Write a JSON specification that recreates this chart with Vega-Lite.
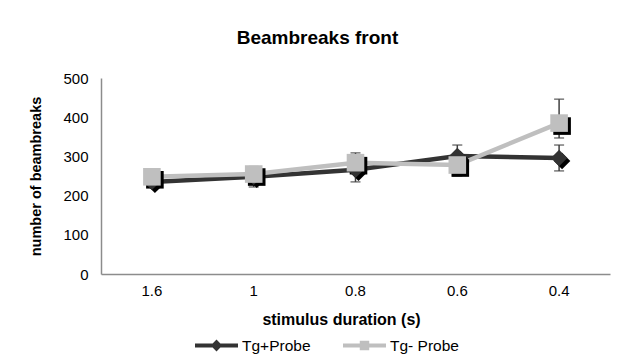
{
  "$schema": "https://vega.github.io/schema/vega-lite/v6.json",
  "width": 509,
  "height": 196,
  "autosize": "none",
  "padding": {"left": 101, "top": 78, "right": 16, "bottom": 86},
  "background": "white",
  "title": {"text": "Beambreaks front", "font": "Liberation Sans", "fontSize": 19, "fontWeight": "bold", "color": "black", "offset": 23, "anchor": "middle", "dx": -38},
  "config": {
    "view": {"stroke": null},
    "font": "Liberation Sans",
    "axis": {"domainColor": "#8c8c8c", "domainWidth": 1.5, "labelColor": "black", "titleColor": "black", "labelFont": "Liberation Sans", "titleFont": "Liberation Sans", "grid": false}
  },
  "data": {"values": [
    {"cat": "1.6", "series": "Tg+Probe", "mean": 235, "lo": 222, "hi": 248},
    {"cat": "1.6", "series": "Tg- Probe", "mean": 248, "lo": 236, "hi": 260},
    {"cat": "1", "series": "Tg+Probe", "mean": 248, "lo": 222, "hi": 274},
    {"cat": "1", "series": "Tg- Probe", "mean": 255, "lo": 241, "hi": 269},
    {"cat": "0.8", "series": "Tg+Probe", "mean": 266, "lo": 235, "hi": 297},
    {"cat": "0.8", "series": "Tg- Probe", "mean": 284, "lo": 259, "hi": 309},
    {"cat": "0.6", "series": "Tg+Probe", "mean": 301, "lo": 273, "hi": 329},
    {"cat": "0.6", "series": "Tg- Probe", "mean": 278, "lo": 250, "hi": 306},
    {"cat": "0.4", "series": "Tg+Probe", "mean": 296, "lo": 263, "hi": 329},
    {"cat": "0.4", "series": "Tg- Probe", "mean": 385, "lo": 347, "hi": 446}
  ]},
  "encoding": {
    "x": {"field": "cat", "type": "nominal", "sort": ["1.6", "1", "0.8", "0.6", "0.4"], "scale": {"paddingInner": 0, "paddingOuter": 0},
      "axis": {"title": "stimulus duration (s)", "labelAngle": 0, "labelFontSize": 15, "labelPadding": 9, "ticks": false, "titleFontSize": 16, "titleFontWeight": "bold", "titlePadding": 13, "titleX": 240}},
    "y": {"field": "mean", "type": "quantitative", "scale": {"domain": [0, 500], "nice": false},
      "axis": {"title": "number of beambreaks", "values": [0, 100, 200, 300, 400, 500], "ticks": false, "labelFontSize": 15, "labelPadding": 13, "titleFontSize": 14.5, "titleFontWeight": "bold", "titlePadding": 19}}
  },
  "layer": [
    {
      "mark": {"type": "line", "strokeWidth": 4.5},
      "encoding": {
        "color": {"field": "series", "type": "nominal", "scale": {"domain": ["Tg+Probe", "Tg- Probe"], "range": ["#333333", "#bfbfbf"]},
          "legend": {"title": null, "orient": "none", "legendX": 94, "legendY": 246, "direction": "horizontal", "padding": 0, "labelFontSize": 15.5, "labelFont": "Liberation Sans", "labelColor": "black", "symbolSize": 1849, "labelOffset": 4, "columnPadding": 32,
            "encode": {"symbols": {"update": {
              "shape": {"signal": "datum.value === 'Tg+Probe' ? 'M-1,-0.09H-0.18L0,-0.28L0.18,-0.09H1V0.09H0.18L0,0.28L-0.18,0.09H-1Z' : 'M-1,-0.09H-0.22V-0.22H0.22V-0.09H1V0.09H0.22V0.22H-0.22V0.09H-1Z'"},
              "fill": {"signal": "scale('color', datum.value)"},
              "fillOpacity": {"value": 1},
              "strokeWidth": {"value": 0},
              "opacity": {"value": 1}
            }}}}
        }
      }
    },
    {
      "mark": {"type": "rule", "color": "#404040", "strokeWidth": 1.5},
      "encoding": {"y": {"field": "lo", "type": "quantitative"}, "y2": {"field": "hi"}}
    },
    {
      "mark": {"type": "tick", "color": "#404040", "thickness": 1.5, "size": 10, "orient": "horizontal"},
      "encoding": {"y": {"field": "lo", "type": "quantitative"}}
    },
    {
      "mark": {"type": "tick", "color": "#404040", "thickness": 1.5, "size": 10, "orient": "horizontal"},
      "encoding": {"y": {"field": "hi", "type": "quantitative"}}
    },
    {
      "transform": [{"filter": "datum.series === 'Tg+Probe'"}],
      "mark": {"type": "point", "shape": "diamond", "size": 270, "filled": true, "opacity": 1, "xOffset": 3, "yOffset": 3, "color": "black"},
      "encoding": {}
    },
    {
      "transform": [{"filter": "datum.series === 'Tg- Probe'"}],
      "mark": {"type": "point", "shape": "square", "size": 310, "filled": true, "opacity": 1, "xOffset": 3, "yOffset": 3, "color": "black"},
      "encoding": {}
    },
    {
      "transform": [{"filter": "datum.series === 'Tg+Probe'"}],
      "mark": {"type": "point", "shape": "diamond", "size": 270, "filled": true, "opacity": 1, "color": "#333333"},
      "encoding": {}
    },
    {
      "transform": [{"filter": "datum.series === 'Tg- Probe'"}],
      "mark": {"type": "point", "shape": "square", "size": 310, "filled": true, "opacity": 1, "color": "#bfbfbf"},
      "encoding": {}
    }
  ]
}
